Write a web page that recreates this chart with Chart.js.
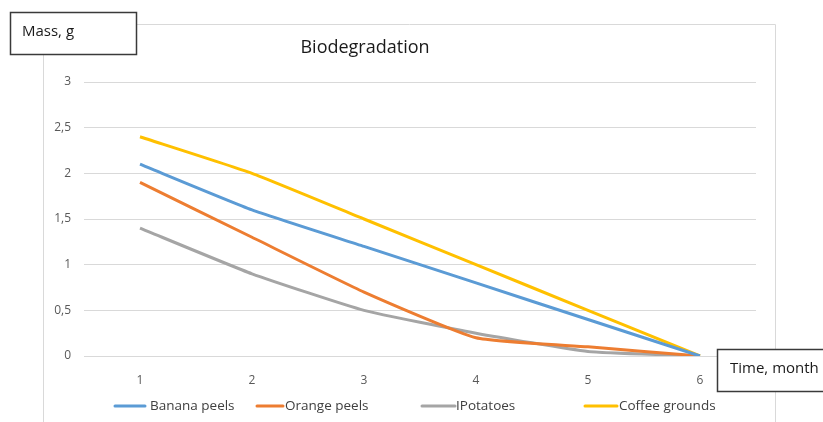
<!DOCTYPE html>
<html lang="en">
<head>
<meta charset="UTF-8">
<title>Biodegradation</title>
<script src="https://cdn.jsdelivr.net/npm/chart.js"></script>
<style>
  html, body { margin: 0; padding: 0; background: #fff; }
  #wrap { width: 823px; height: 422px; }
</style>
</head>
<body>
<div id="wrap"><canvas id="myChart" width="823" height="422"></canvas></div>
<script>
  // months on the x axis
  const months = ['1', '2', '3', '4', '5', '6'];

  // mass in grams for each waste type
  const bananaPeels = [2.1, 1.6, 1.2, 0.8, 0.4, 0];
  const orangePeels = [1.9, 1.3, 0.7, 0.2, 0.1, 0];
  const potatoes = [1.4, 0.9, 0.5, 0.25, 0.05, 0];
  const coffeeGrounds = [2.4, 2.0, 1.5, 1.0, 0.5, 0];

  const seriesNames = ['Banana peels', 'Orange peels', 'IPotatoes', 'Coffee grounds'];
  const yTicks = [0, 0.5, 1, 1.5, 2, 2.5, 3];

  const font = "'Open Sans', 'Noto Sans', sans-serif";

  function line(label, data, color) {
    return {
      label: label,
      data: data,
      borderColor: color,
      backgroundColor: color,
      borderWidth: 3,
      pointRadius: 0,
      tension: 0.15,
      fill: false
    };
  }

  // frame, title, text boxes and legend are drawn by hand
  const decorations = {
    id: 'decorations',
    beforeDraw(chart) {
      const c = chart.ctx;
      c.save();
      c.strokeStyle = '#d9d9d9';
      c.lineWidth = 1;
      c.beginPath();
      c.moveTo(43.5, 422);
      c.lineTo(43.5, 24.5);
      c.lineTo(775.5, 24.5);
      c.lineTo(775.5, 422);
      c.stroke();
      c.restore();
    },
    afterDraw(chart) {
      const c = chart.ctx;
      c.save();

      // title
      c.fillStyle = '#1a1a1a';
      c.font = '18px ' + font;
      c.textAlign = 'center';
      c.textBaseline = 'middle';
      c.fillText('Biodegradation', 365, 48);

      // axis name boxes
      function box(x, y, w, h, text, tx) {
        c.fillStyle = '#fff';
        c.fillRect(x, y, w, h);
        c.strokeStyle = '#3a3a3a';
        c.lineWidth = 1.5;
        c.strokeRect(x, y, w, h);
        c.fillStyle = '#1a1a1a';
        c.font = '15px ' + font;
        c.textAlign = 'left';
        c.textBaseline = 'middle';
        c.fillText(text, tx, y + h / 2 - 2);
      }
      box(10.5, 12.5, 126, 42, 'Mass, g', 22);
      box(717.5, 349.5, 110, 42, 'Time, month', 730);

      // legend
      const pos = [[115, 145, 150], [257, 283, 285], [422, 455, 456], [585, 617, 619]];
      chart.data.datasets.forEach((ds, i) => {
        const p = pos[i];
        c.strokeStyle = ds.borderColor;
        c.lineWidth = 3;
        c.lineCap = 'round';
        c.beginPath();
        c.moveTo(p[0], 406);
        c.lineTo(p[1], 406);
        c.stroke();
        c.fillStyle = '#404040';
        c.font = '13.5px ' + font;
        c.textAlign = 'left';
        c.textBaseline = 'middle';
        c.fillText(ds.label, p[2], 406);
      });
      c.restore();
    }
  };

  new Chart(document.getElementById('myChart'), {
    type: 'line',
    data: {
      labels: months,
      datasets: [
        line(seriesNames[0], bananaPeels, '#5b9bd5'),
        line(seriesNames[1], orangePeels, '#ed7d31'),
        line(seriesNames[2], potatoes, '#a5a5a5'),
        line(seriesNames[3], coffeeGrounds, '#ffc000')
      ]
    },
    options: {
      responsive: false,
      animation: false,
      layout: { padding: { top: 82, right: 67, bottom: 0, left: 0 } },
      plugins: {
        legend: { display: false },
        title: { display: false },
        tooltip: { enabled: false }
      },
      scales: {
        x: {
          offset: true,
          grid: { display: false },
          border: { display: true, color: '#d9d9d9' },
          ticks: { color: '#595959', font: { family: font, size: 12 }, padding: 9, maxRotation: 0 },
          afterFit(scale) { scale.height = 66; }
        },
        y: {
          min: 0,
          max: 3,
          afterBuildTicks(scale) { scale.ticks = yTicks.map(v => ({ value: v })); },
          grid: { color: '#d9d9d9', drawTicks: false },
          border: { display: false },
          ticks: {
            color: '#595959',
            font: { family: font, size: 12 },
            padding: 13,
            callback: v => String(v).replace('.', ',')
          },
          afterFit(scale) { scale.width = 84; }
        }
      }
    },
    plugins: [decorations]
  });
</script>
</body>
</html>
